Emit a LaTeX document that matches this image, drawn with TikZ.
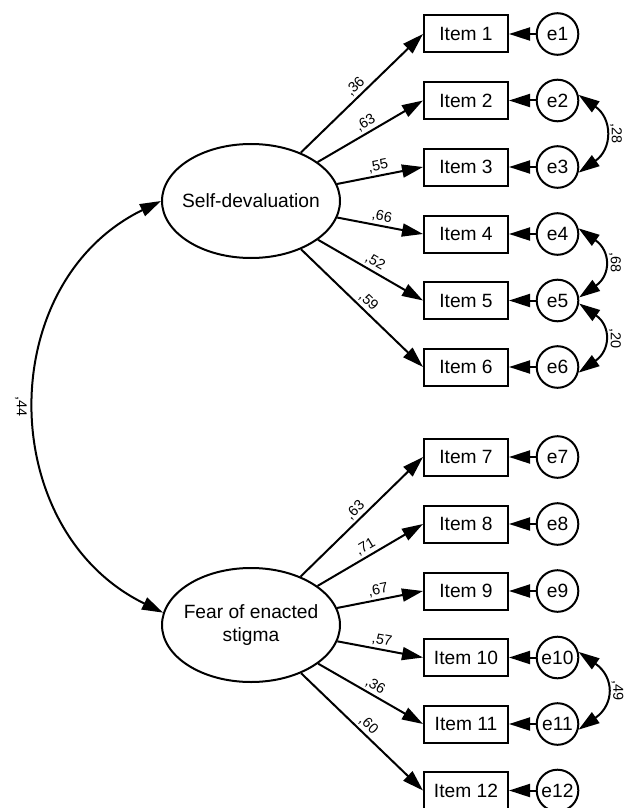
\documentclass[tikz,border=0pt]{standalone}
\usepackage{fontspec}
\setmainfont{Liberation Sans}
\usetikzlibrary{arrows.meta,shapes.geometric}

\begin{document}
\begin{tikzpicture}[x=0.5pt,y=0.5pt,line width=1pt,>={Triangle[length=10.5pt,width=6.5pt]}]
\tikzstyle{every node}+=[inner sep=0pt]
\tikzstyle{latent}=[draw,ellipse,inner xsep=-4pt,minimum width=89pt,minimum height=57pt,align=center,font=\fontsize{9.6}{11.5}\selectfont]
\tikzstyle{item}=[draw,rectangle,minimum width=42pt,minimum height=18.5pt,font=\fontsize{9.6}{11.5}\selectfont]
\tikzstyle{err}=[draw,circle,minimum size=20.8pt,font=\fontsize{9.6}{11.5}\selectfont]
\tikzstyle{coef}=[font=\fontsize{7.2}{8}\selectfont,sloped,above,inner sep=1.2pt,midway]
\tikzstyle{cov}=[font=\fontsize{7.2}{8}\selectfont,midway]
\useasboundingbox (0,0) rectangle (632,-808);
\node[latent] (sd) at (251,-201) {Self-devaluation};
\node[latent] (fe) at (251,-625) {Fear of enacted\\stigma};
\node[item] (i1) at (466,-34) {Item 1};
\node[item] (i2) at (466,-100.5) {Item 2};
\node[item] (i3) at (466,-167) {Item 3};
\node[item] (i4) at (466,-234) {Item 4};
\node[item] (i5) at (466,-300.5) {Item 5};
\node[item] (i6) at (466,-367) {Item 6};
\node[item] (i7) at (466,-457) {Item 7};
\node[item] (i8) at (466,-524) {Item 8};
\node[item] (i9) at (466,-591) {Item 9};
\node[item] (i10) at (466,-657.5) {Item 10};
\node[item] (i11) at (466,-724) {Item 11};
\node[item] (i12) at (466,-790.5) {Item 12};
\node[err] (e1) at (557.5,-34) {e1};
\node[err] (e2) at (557.5,-100.5) {e2};
\node[err] (e3) at (557.5,-167) {e3};
\node[err] (e4) at (557.5,-234) {e4};
\node[err] (e5) at (557.5,-300.5) {e5};
\node[err] (e6) at (557.5,-367) {e6};
\node[err] (e7) at (557.5,-457) {e7};
\node[err] (e8) at (557.5,-524) {e8};
\node[err] (e9) at (557.5,-591) {e9};
\node[err] (e10) at (557.5,-657.5) {e10};
\node[err] (e11) at (557.5,-724) {e11};
\node[err] (e12) at (557.5,-790.5) {e12};
\draw[->] (sd) -- (i1.west) node[coef] {,36};
\draw[->] (sd) -- (i2.west) node[coef] {,63};
\draw[->] (sd) -- (i3.west) node[coef] {,55};
\draw[->] (sd) -- (i4.west) node[coef] {,66};
\draw[->] (sd) -- (i5.west) node[coef] {,52};
\draw[->] (sd) -- (i6.west) node[coef] {,59};
\draw[->] (fe) -- (i7.west) node[coef] {,63};
\draw[->] (fe) -- (i8.west) node[coef] {,71};
\draw[->] (fe) -- (i9.west) node[coef] {,67};
\draw[->] (fe) -- (i10.west) node[coef] {,57};
\draw[->] (fe) -- (i11.west) node[coef] {,36};
\draw[->] (fe) -- (i12.west) node[coef] {,60};
\draw[->] (e1) -- (i1);
\draw[->] (e2) -- (i2);
\draw[->] (e3) -- (i3);
\draw[->] (e4) -- (i4);
\draw[->] (e5) -- (i5);
\draw[->] (e6) -- (i6);
\draw[->] (e7) -- (i7);
\draw[->] (e8) -- (i8);
\draw[->] (e9) -- (i9);
\draw[->] (e10) -- (i10);
\draw[->] (e11) -- (i11);
\draw[->] (e12) -- (i12);
\draw[<->] (e2.15) to[out=-35,in=35,looseness=1.37] node[cov,xshift=6pt,rotate=-90] {,28} (e3.-15);
\draw[<->] (e4.15) to[out=-35,in=35,looseness=1.45] node[cov,xshift=6pt,rotate=-90] {,68} (e5.8);
\draw[<->] (e5.-8) to[out=-35,in=35,looseness=1.45] node[cov,xshift=6pt,rotate=-90] {,20} (e6.-15);
\draw[<->] (e10.15) to[out=-35,in=35,looseness=1.45] node[cov,xshift=6pt,rotate=-90] {,49} (e11.-15);
\draw[<->] (sd.west) to[out=206,in=154,looseness=1.16] node[cov,xshift=-7.5pt,rotate=-90] {,44} (fe.172);
\end{tikzpicture}
\end{document}
